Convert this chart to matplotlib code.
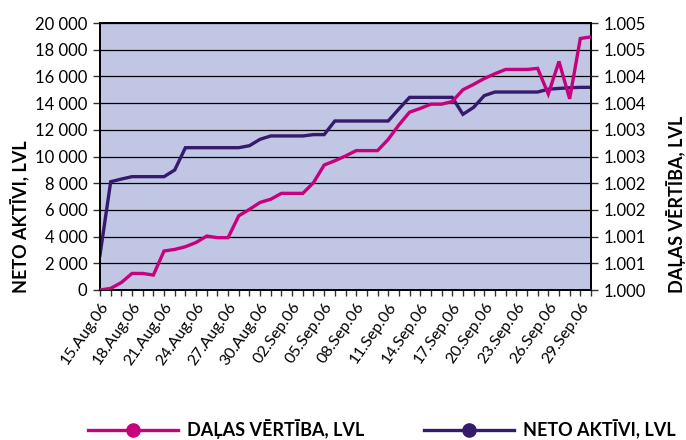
import matplotlib
matplotlib.use("Agg")
import matplotlib.pyplot as plt
from matplotlib.lines import Line2D
import pandas as pd

plt.rcParams['font.family'] = ['Lato', 'DejaVu Sans']

# ---- data ----
dates = pd.date_range('2006-08-15', '2006-09-30', freq='D')
date_labels = [d.strftime('%d.%b.%y') for d in dates]

neto_aktivi = [2620, 8110, 8310, 8490, 8490, 8490, 8490, 8990, 10660, 10660,
               10660, 10660, 10660, 10660, 10810, 11290, 11540, 11540, 11540, 11540,
               11640, 11640, 12660, 12660, 12660, 12660, 12660, 12660, 13560, 14430,
               14430, 14430, 14430, 14430, 13160, 13680, 14560, 14830, 14830, 14830,
               14830, 14830, 15040, 15100, 15150, 15180, 15180]

dalas_vertiba = [1.00000, 1.00003, 1.00014, 1.00031, 1.00031, 1.00028, 1.00073, 1.00076,
                 1.00081, 1.00089, 1.00101, 1.00098, 1.00098, 1.00139, 1.00151, 1.00164,
                 1.00170, 1.00181, 1.00181, 1.00181, 1.00201, 1.00234, 1.00242, 1.00251,
                 1.00261, 1.00261, 1.00261, 1.00282, 1.00309, 1.00333, 1.00340, 1.00348,
                 1.00348, 1.00353, 1.00375, 1.00385, 1.00396, 1.00405, 1.00413, 1.00413,
                 1.00413, 1.00415, 1.00367, 1.00428, 1.00358, 1.00471, 1.00474]

left_ticks = [0, 2000, 4000, 6000, 8000, 10000, 12000, 14000, 16000, 18000, 20000]
left_labels = ['0', '2 000', '4 000', '6 000', '8 000', '10 000', '12 000',
               '14 000', '16 000', '18 000', '20 000']
right_ticks = [1.0000, 1.0005, 1.0010, 1.0015, 1.0020, 1.0025, 1.0030,
               1.0035, 1.0040, 1.0045, 1.0050]
right_labels = ['1.000', '1.001', '1.001', '1.002', '1.002', '1.003',
                '1.003', '1.004', '1.004', '1.005', '1.005']

series_names = ['DAĻAS VĒRTĪBA, LVL', 'NETO AKTĪVI, LVL']

# ---- style ----
C_MAG = '#c8007d'
C_PUR = '#361a6c'
BG = '#c0c6e3'
W, H = 686, 440

fig = plt.figure(figsize=(W / 100, H / 100), dpi=100)
ax = fig.add_axes([100 / W, 1 - 290 / H, 491 / W, 267 / H])
ax.set_facecolor(BG)

x = list(range(len(dates)))
ax.plot(x, neto_aktivi, color=C_PUR, lw=2.4, solid_joinstyle='miter', zorder=3)
ax.set_xlim(0, len(dates) - 1)
ax.set_ylim(0, 20000)
ax.set_yticks(left_ticks)
ax.set_yticklabels(left_labels)
ax.yaxis.grid(True, color='black', lw=0.9)
ax.set_axisbelow(True)

ax.set_xticks(x)
ax.set_xticklabels([lab if i % 3 == 0 else '' for i, lab in enumerate(date_labels)],
                   rotation=55, ha='right', va='top', rotation_mode='anchor')

ax2 = ax.twinx()
ax2.plot(x, dalas_vertiba, color=C_MAG, lw=2.4, solid_joinstyle='miter', zorder=3)
ax2.set_ylim(1.0, 1.005)
ax2.set_yticks(right_ticks)
ax2.set_yticklabels(right_labels)

for a in (ax, ax2):
    for s in a.spines.values():
        s.set_color('black')
        s.set_linewidth(1.3)
    a.tick_params(axis='y', direction='out', length=5, width=1, color='#333333',
                  labelsize=12, pad=4)
ax.tick_params(axis='x', direction='out', length=4, width=1, color='#333333',
               labelsize=11.5, pad=3)

fig.text(20 / W, 1 - 217 / H, series_names[1], rotation=90, ha='center', va='center',
         fontsize=13, fontweight='bold')
fig.text(676 / W, 1 - 204 / H, series_names[0], rotation=90, ha='center', va='center',
         fontsize=13, fontweight='bold')

handles = [Line2D([], [], color=C_MAG, lw=2.4, marker='o', markersize=9.5),
           Line2D([], [], color=C_PUR, lw=2.4, marker='o', markersize=9.5)]
fig.legend(handles, series_names, loc='center left', bbox_to_anchor=(88 / W, 1 - 429 / H),
           ncol=2, frameon=False, borderpad=0, borderaxespad=0, handlelength=5.0,
           handletextpad=0.5, columnspacing=3.3,
           prop={'size': 13, 'weight': 'bold'})

fig.savefig('out.png', dpi=100)
